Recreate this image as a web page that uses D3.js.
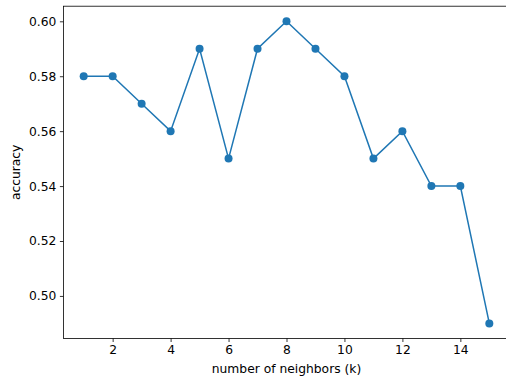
<!DOCTYPE html>
<html lang="en">
<head>
<meta charset="UTF-8">
<title>Accuracy vs k</title>
<style>
  body { margin: 0; background: #fff; }
  svg { display: block; font-family: "DejaVu Sans", sans-serif; }
</style>
</head>
<body>
<svg id="chart"></svg>
<script src="https://d3js.org/d3.v7.min.js"></script>
<script>
// values
const neighbors = [1, 2, 3, 4, 5, 6, 7, 8, 9, 10, 11, 12, 13, 14, 15];
const accuracy = [0.58, 0.58, 0.57, 0.56, 0.59, 0.55, 0.59, 0.60, 0.59, 0.58, 0.55, 0.56, 0.54, 0.54, 0.49];
const xTicks = [2, 4, 6, 8, 10, 12, 14];
const yTicks = [0.50, 0.52, 0.54, 0.56, 0.58, 0.60];

const width = 506, height = 379;
const margin = {left: 63.4, right: -3.6, top: 6.2, bottom: 40.5};
const color = "#1f77b4";
const fontSize = "12.3px";

const svg = d3.select("#chart").attr("width", width).attr("height", height);

const points = neighbors.map((k, i) => ({k: k, acc: accuracy[i]}));

// matplotlib-like 5% padding
const xPad = (d3.max(neighbors) - d3.min(neighbors)) * 0.05;
const yPad = (d3.max(accuracy) - d3.min(accuracy)) * 0.05;

const x = d3.scaleLinear()
  .domain([d3.min(neighbors) - xPad, d3.max(neighbors) + xPad])
  .range([margin.left, width - margin.right]);
const y = d3.scaleLinear()
  .domain([d3.min(accuracy) - yPad, d3.max(accuracy) + yPad])
  .range([height - margin.bottom, margin.top]);

const line = d3.line().x(d => x(d.k)).y(d => y(d.acc));

svg.append("path")
  .datum(points)
  .attr("fill", "none")
  .attr("stroke", color)
  .attr("stroke-width", 1.5)
  .attr("d", line);

svg.append("g")
  .selectAll("circle")
  .data(points)
  .join("circle")
  .attr("cx", d => x(d.k))
  .attr("cy", d => y(d.acc))
  .attr("r", 4)
  .attr("fill", color);

// axes
const xAxis = svg.append("g")
  .attr("transform", `translate(0,${height - margin.bottom})`)
  .call(d3.axisBottom(x).tickValues(xTicks).tickSize(3.5).tickPadding(3.5).tickFormat(d3.format("d")));
const yAxis = svg.append("g")
  .attr("transform", `translate(${margin.left},0)`)
  .call(d3.axisLeft(y).tickValues(yTicks).tickSize(3.5).tickPadding(3.5).tickFormat(d3.format(".2f")));

[xAxis, yAxis].forEach(g => {
  g.select(".domain").remove();
  g.selectAll(".tick line").attr("stroke", "#000").attr("stroke-width", 0.8);
  g.selectAll(".tick text").attr("fill", "#000").style("font-size", fontSize).style("font-family", "DejaVu Sans");
});

// frame
svg.append("rect")
  .attr("x", margin.left)
  .attr("y", margin.top)
  .attr("width", width - margin.right - margin.left)
  .attr("height", height - margin.bottom - margin.top)
  .attr("fill", "none")
  .attr("stroke", "#000")
  .attr("stroke-width", 0.8);

svg.append("text")
  .attr("x", (x.range()[0] + x.range()[1]) / 2)
  .attr("y", 372.5)
  .attr("text-anchor", "middle")
  .style("font-size", fontSize)
  .text("number of neighbors (k)");

svg.append("text")
  .attr("transform", `translate(19.5,${(y.range()[0] + y.range()[1]) / 2}) rotate(-90)`)
  .attr("text-anchor", "middle")
  .style("font-size", fontSize)
  .text("accuracy");
</script>
</body>
</html>
